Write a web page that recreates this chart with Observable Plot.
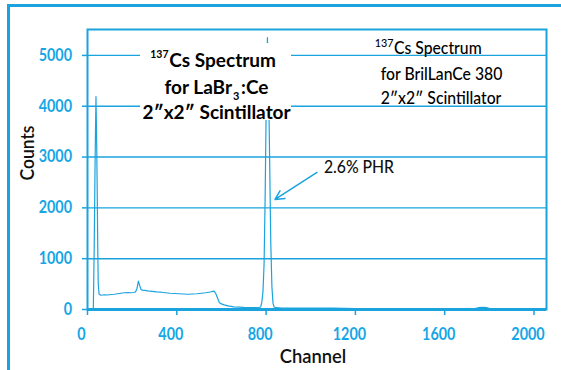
<!DOCTYPE html>
<html><head><meta charset="utf-8">
<script src="https://cdn.jsdelivr.net/npm/d3@7"></script>
<script src="https://cdn.jsdelivr.net/npm/@observablehq/plot@0.6"></script>
<style>
body{margin:0;background:#fff;}
#wrap{position:relative;width:561px;height:370px;overflow:hidden;background:#fff;}
#border{position:absolute;left:7px;top:4px;width:620px;height:420px;border-top:3px solid #1ba3de;border-left:3px solid #1ba3de;pointer-events:none;}
</style></head><body><div id="wrap"><div id="chart"></div><div id="border"></div></div>
<script>
// Spectrum values
const channel = [26, 30, 34, 38, 41, 43, 46, 48, 50, 52, 60, 75, 90, 105, 120, 135, 150, 165, 180, 195, 205, 215, 222, 228, 234, 240, 247, 255, 270, 290, 310, 330, 350, 370, 390, 410, 430, 450, 470, 490, 510, 530, 550, 560, 567, 575, 583, 590, 600, 612, 630, 655, 700, 762, 776, 781, 786, 791, 796, 801, 806, 811, 816, 821, 826, 831, 836, 845, 870, 900, 950, 1000, 1050, 1100, 1150, 1200, 1220, 1300, 1400, 1500, 1600, 1700, 1730, 1750, 1770, 1790, 1810, 1850, 1950, 2050];
const counts  = [10, 1200, 2900, 4190, 3300, 2540, 1200, 510, 400, 300, 280, 290, 285, 295, 300, 310, 320, 330, 335, 330, 335, 345, 420, 557, 470, 390, 380, 375, 365, 355, 345, 340, 330, 320, 315, 310, 305, 300, 305, 310, 320, 330, 345, 355, 360, 310, 220, 140, 110, 90, 70, 50, 40, 35, 50, 150, 350, 900, 2300, 4200, 5350, 4500, 2900, 1300, 450, 120, 50, 35, 30, 30, 30, 30, 30, 28, 25, 20, 8, 5, 5, 5, 5, 8, 15, 35, 40, 35, 10, 5, 5, 5];
const xTicks = [0, 400, 800, 1200, 1600, 2000];
const yTicks = [0, 1000, 2000, 3000, 4000, 5000];
const gridTicks = [1000, 2000, 3000, 4000, 5000];
const xDomain = [0, 2056];
const yDomain = [0, 5510];
const phrArrow = [{x1: 1028, y1: 2697, x2: 840, y2: 2165}];
const phrText = [{x: 1059, y: 2800, t: "2.6% PHR"}];

const data = channel.map((c, i) => ({channel: c, counts: counts[i]}));

const BLUE = "#1ba3de";
const LBL = "#14a6e6";
const F = "Lato, 'Open Sans', sans-serif";

function whiteBox() {
  const r = document.createElementNS("http://www.w3.org/2000/svg", "rect");
  r.setAttribute("x", 140); r.setAttribute("y", 43);
  r.setAttribute("width", 151); r.setAttribute("height", 77);
  r.setAttribute("fill", "white");
  return r;
}

const TL = {frameAnchor: "top-left", lineAnchor: "bottom", fontFamily: F, fill: "black"};

const plot = Plot.plot({
  width: 561, height: 370,
  marginLeft: 87, marginRight: 15, marginTop: 29, marginBottom: 61,
  style: {fontFamily: F, background: "transparent"},
  x: {domain: xDomain},
  y: {domain: yDomain},
  marks: [
    Plot.gridY(gridTicks, {stroke: BLUE, strokeOpacity: 1, strokeWidth: 1.4}),
    Plot.line(data, {x: "channel", y: "counts", stroke: BLUE, strokeWidth: 1.2}),
    whiteBox,
    Plot.frame({stroke: BLUE, strokeWidth: 2}),
    Plot.ruleY([0], {stroke: BLUE, strokeWidth: 3}),
    Plot.axisX({ticks: xTicks, tickSize: 6, stroke: BLUE, strokeWidth: 1.5, tickFormat: () => "", label: null}),
    Plot.axisY({ticks: yTicks, tickSize: 5, stroke: BLUE, strokeWidth: 1.5, tickFormat: () => "", label: null}),
    Plot.text(xTicks, {x: d => d, frameAnchor: "bottom", lineAnchor: "top", dy: 19, dx: -6, text: d => String(d), fill: LBL, fontWeight: "bold", fontSize: 16.5, fontFamily: F, ariaDescription: "xlab"}),
    Plot.text(yTicks, {y: d => d, frameAnchor: "left", textAnchor: "end", dx: -15.5, text: d => String(d), fill: LBL, fontWeight: "bold", fontSize: 16.5, fontFamily: F, ariaDescription: "ylab"}),
    Plot.text(["Counts"], {frameAnchor: "left", rotate: -90, lineAnchor: "bottom", dx: -53.5, dy: 11, fontSize: 19, fontWeight: 600, fontFamily: F, fill: "#111", ariaDescription: "axlab"}),
    Plot.text(["Channel"], {frameAnchor: "bottom", lineAnchor: "bottom", dx: -4, dy: 53, fontSize: 20, fontWeight: 600, fontFamily: F, fill: "#111", ariaDescription: "axlab"}),
    Plot.arrow(phrArrow, {x1: "x1", y1: "y1", x2: "x2", y2: "y2", stroke: BLUE, strokeWidth: 1.5, headLength: 10, headAngle: 55}),
    Plot.text(phrText, {x: "x", y: "y", text: "t", textAnchor: "start", lineAnchor: "middle", fontSize: 17.5, fontWeight: 500, fontFamily: F, fill: "#111", ariaDescription: "rt"}),
    // left title (bold)
    Plot.text(["137"], {...TL, textAnchor: "end", dx: 81, dy: 28.5, fontSize: 10.5, fontWeight: "bold", ariaDescription: "lt"}),
    Plot.text(["Cs Spectrum"], {...TL, textAnchor: "start", dx: 81.8, dy: 37.7, fontSize: 19, fontWeight: "bold", ariaDescription: "lt"}),
    Plot.text(["for LaBr"], {...TL, textAnchor: "end", dx: 144.5, dy: 64, fontSize: 19, fontWeight: "bold", ariaDescription: "lt"}),
    Plot.text(["3"], {...TL, textAnchor: "start", dx: 145.5, dy: 70, fontSize: 11, fontWeight: "bold", ariaDescription: "lt"}),
    Plot.text([":Ce"], {...TL, textAnchor: "start", dx: 153.5, dy: 64, fontSize: 19, fontWeight: "bold", ariaDescription: "lt"}),
    Plot.text(["2\u2033x2\u2033 Scintillator"], {...TL, textAnchor: "middle", dx: 129, dy: 89.3, fontSize: 19, fontWeight: "bold", ariaDescription: "lt"}),
    // right title
    Plot.text(["137"], {...TL, textAnchor: "end", dx: 306, dy: 17.7, fontSize: 12, fontWeight: 500, ariaDescription: "rt"}),
    Plot.text(["Cs Spectrum"], {...TL, textAnchor: "start", dx: 306.5, dy: 24.3, fontSize: 17.5, fontWeight: 500, ariaDescription: "rt"}),
    Plot.text(["for BrilLanCe 380"], {...TL, textAnchor: "middle", dx: 354, dy: 50, fontSize: 17.5, fontWeight: 500, ariaDescription: "rt"}),
    Plot.text(["2\u2033x2\u2033 Scintillator"], {...TL, textAnchor: "middle", dx: 353.5, dy: 74, fontSize: 17.5, fontWeight: 500, ariaDescription: "rt"})
  ]
});

// horizontally condense text glyphs around their own anchor (y unaffected)
function condense(svg, label, sx) {
  svg.querySelectorAll(`g[aria-description="${label}"] text`).forEach(t => {
    const tr = t.getAttribute("transform") || "";
    const x = t.getAttribute("x");
    if (x != null && !isNaN(+x)) t.setAttribute("x", +x / sx);
    t.setAttribute("transform", `${tr} scale(${sx},1)`);
  });
}
condense(plot, "xlab", 0.87);
condense(plot, "ylab", 0.87);
condense(plot, "axlab", 0.92);
condense(plot, "rt", 0.9);
document.getElementById("chart").appendChild(plot);
</script></body></html>
